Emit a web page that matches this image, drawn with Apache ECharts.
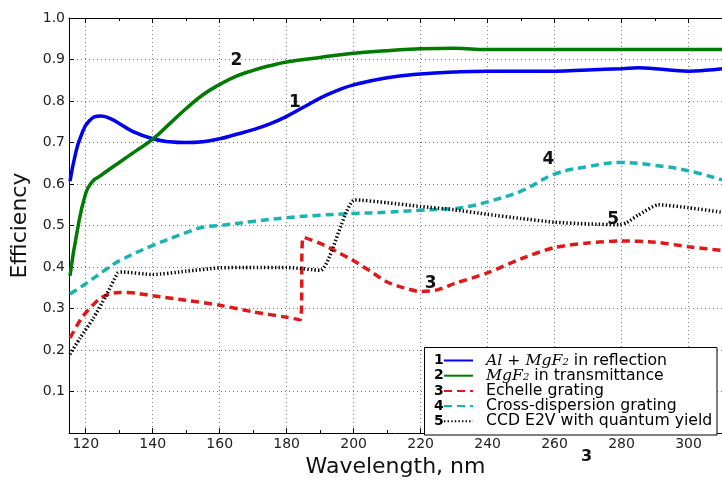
<!DOCTYPE html>
<html>
<head>
<meta charset="utf-8">
<script src="https://cdn.jsdelivr.net/npm/echarts@6/dist/echarts.min.js"></script>
<style>
  html, body { margin: 0; padding: 0; background: #fff; }
  #chart { width: 722px; height: 483px; }
</style>
</head>
<body>
<div id="chart"></div>
<script>
// wavelength (nm), efficiency
const reflection = [
  [115.3, 0.607], [117, 0.675], [118.5, 0.714], [121, 0.752], [124.5, 0.764], [127, 0.759],
  [130, 0.746], [134, 0.727], [140, 0.709], [145, 0.702], [150, 0.700], [155, 0.702],
  [160, 0.709], [165, 0.720], [170, 0.731], [175, 0.745], [180, 0.763], [185, 0.785],
  [190, 0.807], [195, 0.825], [200, 0.839], [210, 0.856], [220, 0.865], [230, 0.870],
  [240, 0.872], [250, 0.872], [260, 0.872], [270, 0.875], [280, 0.878], [285, 0.880],
  [290, 0.878], [300, 0.872], [305, 0.874], [310, 0.878]
]
const transmittance = [
  [115.3, 0.379], [117.3, 0.48], [120, 0.578], [122, 0.606], [124, 0.618], [130, 0.652],
  [135, 0.680], [140, 0.708], [145, 0.745], [150, 0.782], [155, 0.815], [160, 0.840],
  [165, 0.860], [170, 0.874], [175, 0.885], [180, 0.894], [190, 0.905], [200, 0.915],
  [210, 0.921], [220, 0.926], [230, 0.927], [240, 0.924], [260, 0.924], [280, 0.924],
  [300, 0.924], [310, 0.924]
]
const echelle = [
  [115.3, 0.229], [119, 0.28], [124, 0.323], [127, 0.335], [130, 0.339], [135, 0.337],
  [140, 0.331], [150, 0.320], [160, 0.308], [170, 0.292], [180, 0.279], [184, 0.273],
  [185, 0.472], [190, 0.457], [195, 0.437], [200, 0.415], [205, 0.390], [210, 0.364],
  [215, 0.350], [220, 0.341], [225, 0.345], [230, 0.360], [240, 0.386], [250, 0.420],
  [260, 0.447], [270, 0.458], [280, 0.463], [290, 0.460], [300, 0.449], [310, 0.440]
]
const crossDisp = [
  [115.3, 0.335], [120, 0.360], [126, 0.394], [130, 0.415], [140, 0.452], [150, 0.483],
  [155, 0.496], [160, 0.500], [170, 0.510], [180, 0.519], [190, 0.525], [200, 0.529],
  [210, 0.532], [220, 0.537], [230, 0.541], [235, 0.547], [240, 0.557], [250, 0.583],
  [260, 0.624], [270, 0.642], [280, 0.652], [290, 0.645], [300, 0.632], [310, 0.610]
]
const ccd = [
  [115.3, 0.19], [118.3, 0.229], [122.2, 0.276], [126, 0.33], [129.6, 0.386], [131, 0.388],
  [140, 0.382], [150, 0.390], [160, 0.398], [170, 0.399], [180, 0.399], [190, 0.392],
  [200.4, 0.562], [210, 0.555], [220, 0.546], [230, 0.538], [240, 0.527], [250, 0.517],
  [260, 0.508], [270, 0.504], [279.5, 0.502], [281.5, 0.507], [285, 0.525], [291, 0.550],
  [300, 0.543], [310, 0.532]
]

const seriesNames = [
  'Al+MgF2 in reflection',
  'MgF2 in transmittance',
  'Echelle grating',
  'Cross-dispersion grating',
  'CCD E2V with quantum yield'
]
const legendRich = {
  'Al+MgF2 in reflection': '{m|Al + MgF}{s|2}{t| in reflection}',
  'MgF2 in transmittance': '{m|MgF}{s|2}{t| in transmittance}'
}

const font = 'DejaVu Sans'
const chart = echarts.init(document.getElementById('chart'), null, { renderer: 'canvas' })

function numLabel(text, coord) {
  return {
    symbol: 'circle',
    symbolSize: 1,
    itemStyle: { color: 'rgba(0,0,0,0)' },
    label: {
      show: true, formatter: text, color: '#111',
      fontFamily: font, fontWeight: 'bold', fontSize: 17
    },
    data: [{ coord: coord }]
  }
}

const axisCommon = {
  type: 'value',
  min: 115,
  max: 310,
  splitNumber: 10,
  axisLine: { lineStyle: { color: '#000', width: 1 } },
  axisTick: { inside: true, length: 5, lineStyle: { color: '#000' } },
  minorTick: { show: true, splitNumber: 2, length: 3, lineStyle: { color: '#000' } }
}

chart.setOption({
  animation: false,
  backgroundColor: '#fff',
  grid: { left: 69, top: 18, right: -5, bottom: 39 },
  xAxis: [
    Object.assign({}, axisCommon, {
      position: 'bottom',
      name: 'Wavelength, nm',
      nameLocation: 'middle',
      nameGap: 17,
      nameTextStyle: { fontFamily: font, fontSize: 22, color: '#111' },
      axisLabel: {
        fontFamily: font, fontSize: 14, color: '#222', margin: 4,
        showMinLabel: false, showMaxLabel: false
      },
      splitLine: { show: true, lineStyle: { color: '#777', type: [1, 3], width: 1 } }
    }),
    Object.assign({}, axisCommon, {
      position: 'top',
      axisLabel: { show: false },
      splitLine: { show: false }
    })
  ],
  yAxis: {
    type: 'value',
    min: 0,
    max: 1,
    interval: 0.1,
    name: 'Efficiency',
    nameLocation: 'middle',
    nameGap: 38,
    nameTextStyle: { fontFamily: font, fontSize: 22, color: '#111' },
    axisLine: { show: true, lineStyle: { color: '#000', width: 1 } },
    axisTick: { show: true, inside: true, length: 5, lineStyle: { color: '#000' } },
    axisLabel: {
      fontFamily: font, fontSize: 14, color: '#222', margin: 4,
      showMinLabel: false,
      formatter: v => v.toFixed(1)
    },
    splitLine: { show: true, lineStyle: { color: '#777', type: [1, 3], width: 1 } }
  },
  legend: {
    orient: 'vertical',
    z: 20,
    left: 443,
    top: 352.5,
    padding: 0,
    itemGap: -0.8,
    itemWidth: 29,
    itemHeight: 10,
    itemStyle: { opacity: 0 },
    data: seriesNames,
    formatter: name => legendRich[name] || '{t|' + name + '}',
    textStyle: {
      rich: {
        t: { fontFamily: font, fontSize: 15.7, color: '#000', lineHeight: 14 },
        m: { fontFamily: 'DejaVu Serif', fontStyle: 'italic', fontSize: 15.7, color: '#000', lineHeight: 14 },
        s: { fontFamily: 'DejaVu Serif', fontStyle: 'italic', fontSize: 10, color: '#000', lineHeight: 5, verticalAlign: 'bottom' }
      },
      padding: [0, 0, 0, 8]
    }
  },
  graphic: [
    {
      type: 'rect', z: 10,
      shape: { x: 424.5, y: 347.5, width: 292.5, height: 87.5 },
      style: { fill: '#fff', stroke: '#000', lineWidth: 1 }
    },
    ...['1', '2', '3', '4', '5'].map((t, i) => ({
      type: 'text', z: 30,
      style: {
        text: t, x: 434, y: 360.5 + i * 15.2,
        font: 'bold 14px DejaVu Sans', fill: '#000', verticalAlign: 'middle'
      }
    })),
    {
      type: 'text', z: 30,
      style: {
        text: '3', x: 581, y: 449,
        font: 'bold 16px DejaVu Sans', fill: '#111'
      }
    }
  ],
  series: [
    {
      name: seriesNames[0], type: 'line', data: reflection, symbol: 'none',
      smooth: 0.5,
      lineStyle: { color: '#0000ee', width: 3.5 }, itemStyle: { color: '#0000ee' },
      markPoint: numLabel('1', [182.5, 0.797])
    },
    {
      name: seriesNames[1], type: 'line', data: transmittance, symbol: 'none',
      smooth: 0.5,
      lineStyle: { color: '#007a00', width: 3.5 }, itemStyle: { color: '#007a00' },
      markPoint: numLabel('2', [165, 0.897])
    },
    {
      name: seriesNames[2], type: 'line', data: echelle, symbol: 'none',
      smooth: 0.25,
      lineStyle: { color: '#e01818', width: 3.5, type: [8, 5] }, itemStyle: { color: '#e01818' },
      markPoint: numLabel('3', [223, 0.36])
    },
    {
      name: seriesNames[3], type: 'line', data: crossDisp, symbol: 'none',
      smooth: 0.4,
      lineStyle: { color: '#1ab3b3', width: 3.5, type: [8, 5] }, itemStyle: { color: '#1ab3b3' },
      markPoint: numLabel('4', [258.2, 0.66])
    },
    {
      name: seriesNames[4], type: 'line', data: ccd, symbol: 'none',
      smooth: 0.2,
      lineStyle: { color: '#000', width: 3.5, type: [1.4, 2.2] }, itemStyle: { color: '#000' },
      markPoint: numLabel('5', [277.5, 0.515])
    }
  ]
})
</script>
</body>
</html>
